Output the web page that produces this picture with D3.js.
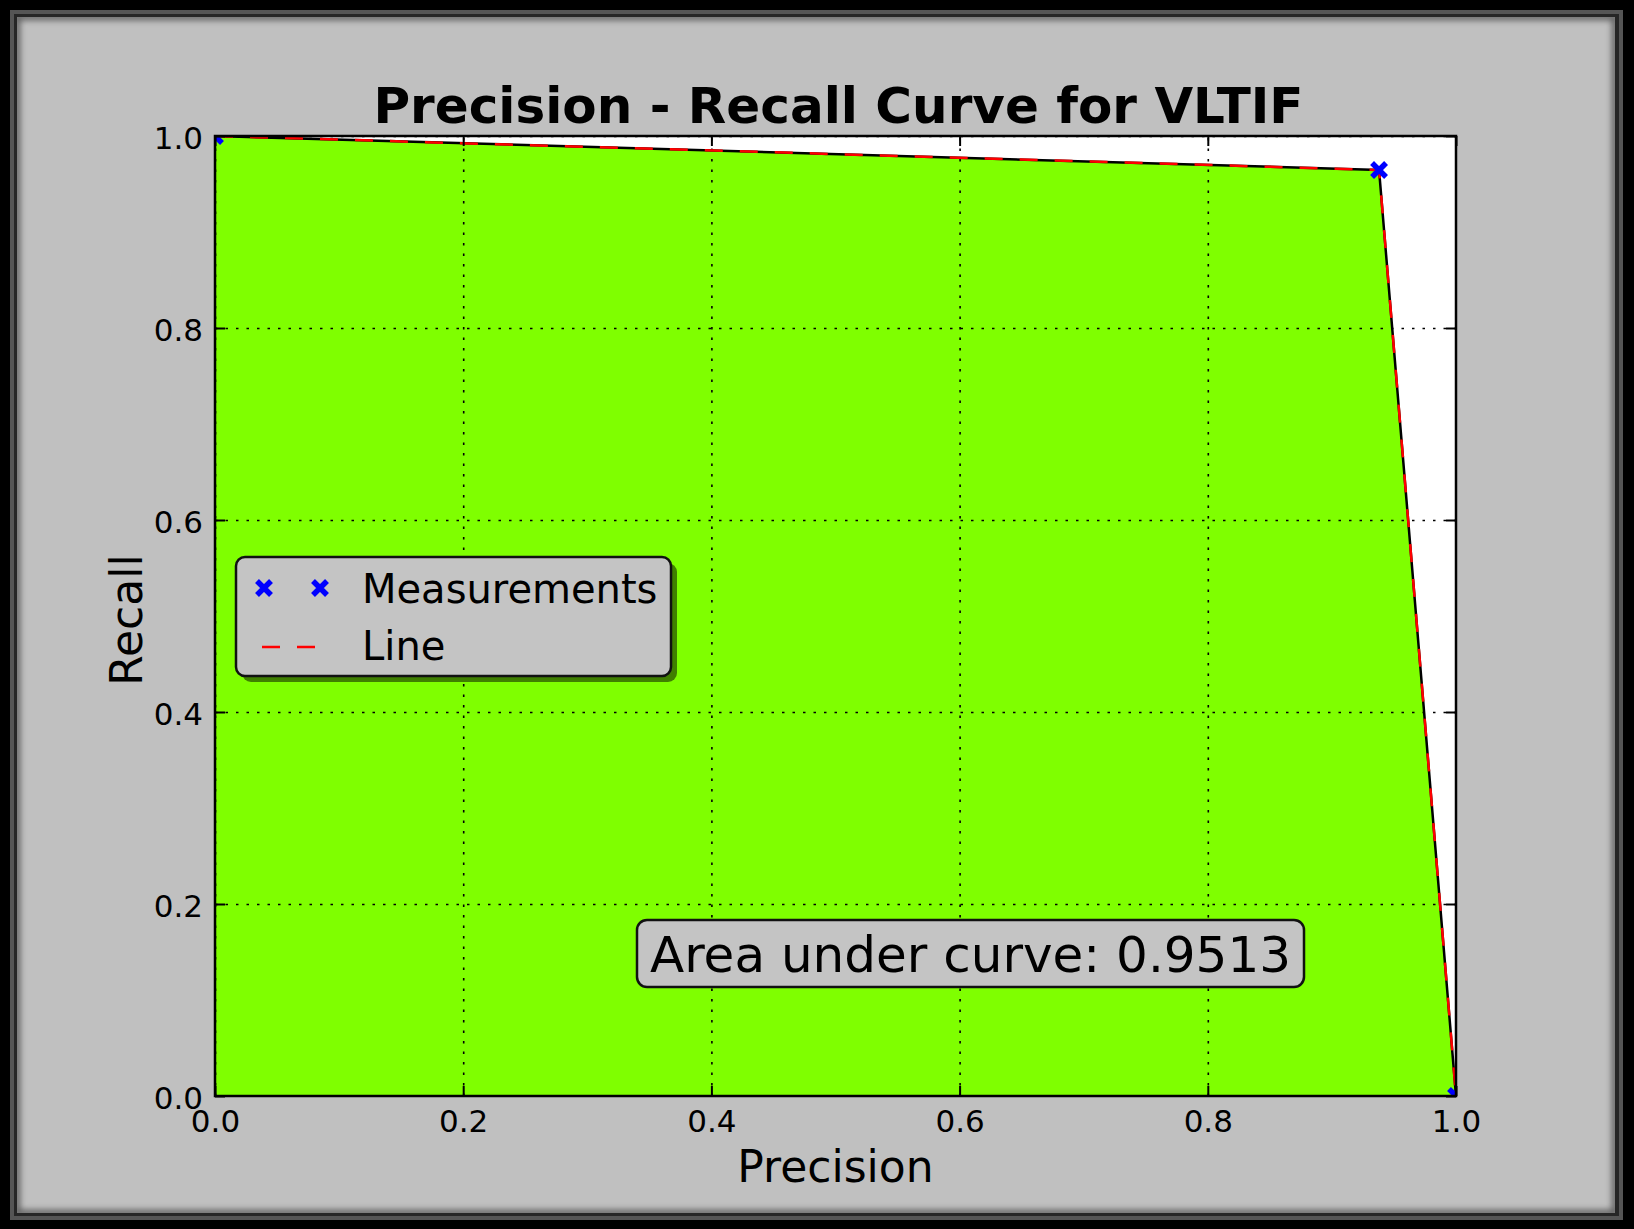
<!DOCTYPE html>
<html>
<head>
<meta charset="utf-8">
<script src="https://cdn.jsdelivr.net/npm/d3@7"></script>
<style>
  html, body { margin: 0; padding: 0; background: #000; }
  svg { display: block; }
  text { font-family: "DejaVu Sans", sans-serif; fill: #000; }
</style>
</head>
<body>
<svg id="chart" width="1634" height="1229"></svg>
<script>
// ---- data ----
const precision = [0.0, 0.938, 1.0];
const recall = [1.0, 0.9646, 0.0];
const xTicks = [0.0, 0.2, 0.4, 0.6, 0.8, 1.0];
const yTicks = [0.0, 0.2, 0.4, 0.6, 0.8, 1.0];
const xTickLabels = ["0.0", "0.2", "0.4", "0.6", "0.8", "1.0"];
const yTickLabels = ["0.0", "0.2", "0.4", "0.6", "0.8", "1.0"];
const titleText = "Precision - Recall Curve for VLTIF";
const xLabel = "Precision";
const yLabel = "Recall";
const legendLabels = ["Measurements", "Line"];
const aucText = "Area under curve: 0.9513";

// ---- layout ----
const W = 1634, H = 1229;
const plot = { left: 215, top: 136, right: 1456, bottom: 1096 };

const svg = d3.select("#chart");
const defs = svg.append("defs");

// frame
svg.append("rect").attr("width", W).attr("height", H).attr("fill", "#000");
svg.append("rect").attr("x", 12).attr("y", 12).attr("width", 1609).attr("height", 1206)
  .attr("fill", "#262626").attr("stroke", "#555").attr("stroke-width", 4);
svg.append("rect").attr("x", 17).attr("y", 17).attr("width", 1598).attr("height", 1196)
  .attr("fill", "#c0c0c0");
defs.append("clipPath").attr("id", "panelClip").append("rect")
  .attr("x", 17).attr("y", 17).attr("width", 1598).attr("height", 1196);
const blur = defs.append("filter").attr("id", "blur").attr("x", "-5%").attr("y", "-5%")
  .attr("width", "110%").attr("height", "110%");
blur.append("feGaussianBlur").attr("stdDeviation", 3);
svg.append("rect").attr("x", 17).attr("y", 17).attr("width", 1598).attr("height", 1196)
  .attr("fill", "none").attr("stroke", "rgba(0,0,0,0.55)").attr("stroke-width", 6)
  .attr("filter", "url(#blur)").attr("clip-path", "url(#panelClip)");

// scales
const x = d3.scaleLinear().domain([0, 1]).range([plot.left, plot.right]);
const y = d3.scaleLinear().domain([0, 1]).range([plot.bottom, plot.top]);
const pw = plot.right - plot.left, ph = plot.bottom - plot.top;

defs.append("clipPath").attr("id", "plotClip").append("rect")
  .attr("x", plot.left).attr("y", plot.top).attr("width", pw).attr("height", ph);

// axes background
svg.append("rect").attr("x", plot.left).attr("y", plot.top).attr("width", pw).attr("height", ph)
  .attr("fill", "#fff");

const pts = precision.map((p, i) => [p, recall[i]]);
const g = svg.append("g").attr("clip-path", "url(#plotClip)");

// filled area
const area = d3.area().x(d => x(d[0])).y0(y(0)).y1(d => y(d[1]));
g.append("path").datum(pts).attr("d", area).attr("fill", "#7fff00");

// grid
const gridX = d3.axisBottom(x).tickValues(xTicks).tickSize(-ph).tickFormat("");
const gridY = d3.axisLeft(y).tickValues(yTicks).tickSize(-pw).tickFormat("");
[g.append("g").attr("transform", `translate(0,${plot.bottom})`).call(gridX),
 g.append("g").attr("transform", `translate(${plot.left},0)`).call(gridY)].forEach(a => {
  a.select(".domain").remove();
  a.selectAll("line").attr("stroke", "#000").attr("stroke-width", 1.6)
    .attr("stroke-dasharray", "2.5,8");
});

// polygon edge + dashed line
const line = d3.line().x(d => x(d[0])).y(d => y(d[1]));
g.append("path").datum(pts).attr("d", line).attr("fill", "none")
  .attr("stroke", "#000").attr("stroke-width", 2.5);
g.append("path").datum(pts).attr("d", line).attr("fill", "none")
  .attr("stroke", "#ff0000").attr("stroke-width", 2.5).attr("stroke-dasharray", "18,17");

// markers
function xMarker(sel, cx, cy, r, sw) {
  sel.append("path")
    .attr("d", `M${cx - r},${cy - r}L${cx + r},${cy + r}M${cx - r},${cy + r}L${cx + r},${cy - r}`)
    .attr("stroke", "#0000ff").attr("stroke-width", sw).attr("fill", "none");
}
pts.forEach(d => xMarker(g, x(d[0]), y(d[1]), 7, 5.5));

// spines
svg.append("rect").attr("x", plot.left).attr("y", plot.top).attr("width", pw).attr("height", ph)
  .attr("fill", "none").attr("stroke", "#000").attr("stroke-width", 2.5);

// ticks (inside, all four sides)
const tickLen = 10;
function styleTicks(a) {
  a.select(".domain").remove();
  a.selectAll("line").attr("stroke", "#000").attr("stroke-width", 2);
}
const axB = svg.append("g").attr("transform", `translate(0,${plot.bottom})`)
  .call(d3.axisBottom(x).tickValues(xTicks).tickSize(-tickLen)
    .tickFormat((d, i) => xTickLabels[i]));
styleTicks(axB);
axB.selectAll("text").attr("font-size", 31).attr("font-family", "DejaVu Sans")
  .attr("fill", "#000").attr("dy", 0).attr("y", 36);
const axT = svg.append("g").attr("transform", `translate(0,${plot.top})`)
  .call(d3.axisTop(x).tickValues(xTicks).tickSize(-tickLen).tickFormat(""));
styleTicks(axT);
const axL = svg.append("g").attr("transform", `translate(${plot.left},0)`)
  .call(d3.axisLeft(y).tickValues(yTicks).tickSize(-tickLen)
    .tickFormat((d, i) => yTickLabels[i]));
styleTicks(axL);
axL.selectAll("text").attr("font-size", 31).attr("font-family", "DejaVu Sans")
  .attr("fill", "#000").attr("x", -12).attr("dy", 12.5).attr("text-anchor", "end");
const axR = svg.append("g").attr("transform", `translate(${plot.right},0)`)
  .call(d3.axisRight(y).tickValues(yTicks).tickSize(-tickLen).tickFormat(""));
styleTicks(axR);

// title and axis labels
svg.append("text").attr("x", (plot.left + plot.right) / 2 + 3).attr("y", 123)
  .attr("text-anchor", "middle").attr("font-size", 50).attr("font-weight", "bold")
  .text(titleText);
svg.append("text").attr("x", (plot.left + plot.right) / 2).attr("y", 1182)
  .attr("text-anchor", "middle").attr("font-size", 44).text(xLabel);
svg.append("text").attr("transform", "translate(142,620) rotate(-90)")
  .attr("text-anchor", "middle").attr("font-size", 44).text(yLabel);

// legend
const lg = svg.append("g");
lg.append("rect").attr("x", 242).attr("y", 563).attr("width", 435).attr("height", 119)
  .attr("rx", 9).attr("fill", "rgba(0,0,0,0.5)");
lg.append("rect").attr("x", 236).attr("y", 557).attr("width", 435).attr("height", 119)
  .attr("rx", 9).attr("fill", "#c4c4c4").attr("stroke", "#111").attr("stroke-width", 2.5);
xMarker(lg, 264, 588, 7, 5.5);
xMarker(lg, 320, 588, 7, 5.5);
lg.append("line").attr("x1", 262).attr("x2", 316).attr("y1", 647).attr("y2", 647)
  .attr("stroke", "#ff0000").attr("stroke-width", 2.5).attr("stroke-dasharray", "18,17");
lg.append("text").attr("x", 362).attr("y", 603).attr("font-size", 40).text(legendLabels[0]);
lg.append("text").attr("x", 362).attr("y", 660).attr("font-size", 40).text(legendLabels[1]);

// AUC box
svg.append("rect").attr("x", 637).attr("y", 920).attr("width", 667).attr("height", 67)
  .attr("rx", 10).attr("fill", "#c4c4c4").attr("stroke", "#111").attr("stroke-width", 2.5);
svg.append("text").attr("x", 970.5).attr("y", 972).attr("text-anchor", "middle")
  .attr("font-size", 50).text(aucText);
</script>
</body>
</html>
